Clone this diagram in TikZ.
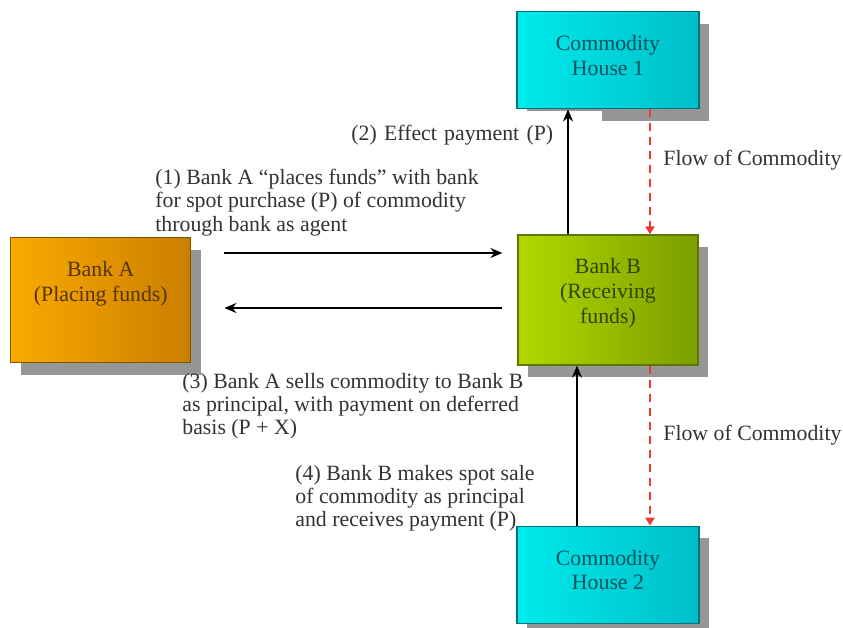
\documentclass[tikz,border=0pt]{standalone}
\usepackage{fontspec}
\setmainfont{Liberation Serif}
\usepackage{tikz}
\usetikzlibrary{arrows.meta,shapes,positioning,shadows}
\definecolor{orangeLight}{RGB}{250,170,0}
\definecolor{orangeDark}{RGB}{202,126,0}
\definecolor{orangeLine}{RGB}{130,85,0}
\definecolor{orangeText}{RGB}{85,52,0}
\definecolor{cyanLight}{RGB}{0,234,236}
\definecolor{cyanDark}{RGB}{0,190,200}
\definecolor{cyanLine}{RGB}{0,115,125}
\definecolor{cyanText}{RGB}{0,82,92}
\definecolor{limeLight}{RGB}{178,216,0}
\definecolor{limeDark}{RGB}{124,158,0}
\definecolor{limeLine}{RGB}{95,118,0}
\definecolor{limeText}{RGB}{52,66,0}
\definecolor{shadowGray}{RGB}{150,150,150}
\definecolor{flowRed}{RGB}{235,60,50}
\definecolor{textGray}{RGB}{50,50,50}

\begin{document}
\begin{tikzpicture}[x=0.5pt, y=-0.5pt,
			box/.style={draw, rectangle, line width=0.6pt, drop shadow={shadow xshift=5pt, shadow yshift=-6pt, fill=shadowGray, opacity=1}},
			bankABox/.style={box, draw=orangeLine, left color=orangeLight, right color=orangeDark, minimum width=90pt, minimum height=62.5pt},
			bankBBox/.style={box, draw=limeLine, left color=limeLight, right color=limeDark, minimum width=90pt, minimum height=65pt},
			houseBox/.style={box, draw=cyanLine, left color=cyanLight, right color=cyanDark, minimum width=91pt, minimum height=48.5pt},
			boxText/.style={inner sep=0pt, align=center, font=\fontsize{10.9}{12.3}\selectfont},
			title/.style={inner sep=0pt, align=left, text=textGray, font=\fontsize{10.9}{11.6}\selectfont},
			arrowStrong/.style={line width=1pt, ->, >={Stealth[length=6pt, width=5pt]}},
			flowArrow/.style={line width=1pt, flowRed, dash pattern=on 4pt off 3pt, ->, >={Triangle[length=4pt, width=4.5pt]}},
			]
			\useasboundingbox (0,0) rectangle (843,628);
			
			% banks and houses
			\draw node[bankBBox] (bankB) at (608,300) {};
			\draw node[houseBox][above=62.5pt of bankB] (house1) {};
			\draw node[houseBox][below=80pt of bankB] (house2) {};
			\draw node[bankABox][left=163pt of bankB] (bankA) {};
			
			\draw node[boxText, text=orangeText][below=12pt of bankA.north] (bankAText) {Bank A\\(Placing funds)};
			\draw node[boxText, text=limeText][below=12pt of bankB.north] (bankBText) {Bank B\\(Receiving\\funds)};
			\draw node[boxText, text=cyanText][below=12pt of house1.north] (house1Text) {Commodity\\House 1};
			\draw node[boxText, text=cyanText][below=12pt of house2.north] (house2Text) {Commodity\\House 2};
			
			% steps
			\draw node[title, anchor=north west] (step1) at (155,169) {(1) Bank A “places funds” with bank\\for spot purchase (P) of commodity\\through bank as agent};
			\draw node[title, anchor=base west, fill=white, inner ysep=6.8pt, text width=125.5pt] (step2) at (351,140) {(2) Effect payment (P)};
			\draw node[title, anchor=north west] (step3) at (182,373) {(3) Bank A sells commodity to Bank B\\as principal, with payment on deferred\\basis (P + X)};
			\draw node[title, anchor=north west] (step4) at (295,465) {(4) Bank B makes spot sale\\of commodity as principal\\and receives payment (P)};
			\draw node[title, anchor=base west] (flow1) at (663,165) {Flow of Commodity};
			\draw node[title, anchor=base west] (flow2) at (663,440) {Flow of Commodity};
			
			% Arrow
			\draw [arrowStrong] ([xshift=16.5pt, yshift=23.5pt]bankA.east) -- ([xshift=-7.5pt, yshift=23.5pt]bankB.west);
			\draw [arrowStrong] ([xshift=-7.5pt, yshift=-4pt]bankB.west) -- ([xshift=16.5pt, yshift=-4pt]bankA.east);
			\draw [arrowStrong] ([xshift=-20pt]bankB.north) -- ([xshift=-20pt]house1.south);
			\draw [arrowStrong] ([xshift=-15.5pt]house2.north) -- ([xshift=-15.5pt]bankB.south);
			
			\draw [flowArrow] ([xshift=21pt]house1.south) -- ([xshift=21pt]bankB.north);
			\draw [flowArrow] ([xshift=21pt]bankB.south) -- ([xshift=21pt]house2.north);
			
		\end{tikzpicture}
\end{document}
